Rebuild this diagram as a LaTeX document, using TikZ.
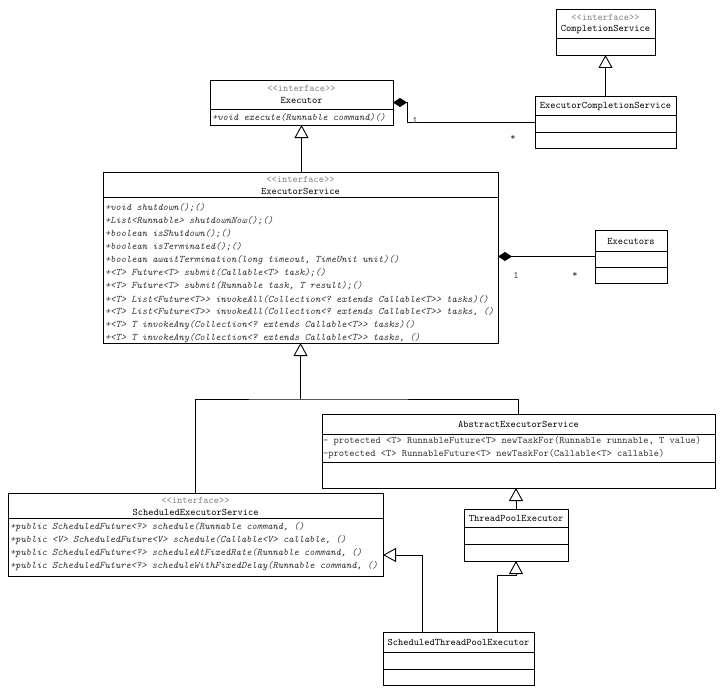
\documentclass[tikz,border=0pt]{standalone}
\usepackage{fontspec}
\setmonofont{Latin Modern Mono}
\usetikzlibrary{arrows.meta}
\tikzset{
  cls/.style={draw, line width=0.9pt, anchor=north west, inner sep=0pt, outer sep=0pt},
  txt/.style={inner sep=0pt, font=\ttfamily\fontsize{10}{11}\selectfont},
  stereo/.style={txt, text=black!50},
  cname/.style={txt, text=black},
  meth/.style={txt, anchor=west, font=\ttfamily\itshape\fontsize{10}{11}\selectfont, text=black!80},
  op/.style={txt, anchor=west, text=black!80},
  sep/.style={line width=0.9pt},
  inh/.style={-{Triangle[open, length=13pt, width=14pt, fill=white]}, line width=0.9pt},
  comp/.style={-{Diamond[length=14pt, width=9pt]}, line width=0.9pt},
  mult/.style={txt, text=black!80}
}
\begin{document}
\begin{tikzpicture}[x=1pt,y=-1pt]
\useasboundingbox (0,0) rectangle (720,693);

% CompletionService
\node[cls, minimum width=99pt, minimum height=46pt] (cs) at (556,9) {};
\draw[sep] (556,38) -- (655,38);
\node[stereo] (csst) at (605.5,17) {<<interface>>};
\node[cname] (csn) at (605.5,30) {CompletionService};

% ExecutorCompletionService
\node[cls, minimum width=141pt, minimum height=52pt] (ecs) at (535,96) {};
\draw[sep] (535,115) -- (676,115);
\draw[sep] (535,132) -- (676,132);
\node[cname] (ecsn) at (605.5,106) {ExecutorCompletionService};

% Executor
\node[cls, minimum width=183pt, minimum height=45pt] (exec) at (210,80) {};
\draw[sep] (210,109) -- (393,109);
\node[stereo] (execst) at (301.5,88) {<<interface>>};
\node[cname] (execn) at (301.5,100) {Executor};
\node[meth] (execm) at (212,117) {+void execute(Runnable command)()};

% ExecutorService
\node[cls, minimum width=395pt, minimum height=171pt] (es) at (103,172) {};
\draw[sep] (103,197) -- (498,197);
\node[stereo] (esst) at (300.5,179) {<<interface>>};
\node[cname] (esn) at (300.5,191) {ExecutorService};
\node[meth] (esm1) at (105,208) {+void shutdown();()};
\node[meth] (esm2) at (105,221) {+List<Runnable> shutdownNow();()};
\node[meth] (esm3) at (105,234) {+boolean isShutdown();()};
\node[meth] (esm4) at (105,247) {+boolean isTerminated();()};
\node[meth] (esm5) at (105,260) {+boolean awaitTermination(long timeout, TimeUnit unit)()};
\node[meth] (esm6) at (105,273) {+<T> Future<T> submit(Callable<T> task);()};
\node[meth] (esm7) at (105,286) {+<T> Future<T> submit(Runnable task, T result);()};
\node[meth] (esm8) at (105,299) {+<T> List<Future<T>> invokeAll(Collection<? extends Callable<T>> tasks)()};
\node[meth] (esm9) at (105,312) {+<T> List<Future<T>> invokeAll(Collection<? extends Callable<T>> tasks, ()};
\node[meth] (esm10) at (105,325) {+<T> T invokeAny(Collection<? extends Callable<T>> tasks)()};
\node[meth] (esm11) at (105,338) {+<T> T invokeAny(Collection<? extends Callable<T>> tasks, ()};

% Executors
\node[cls, minimum width=72pt, minimum height=53pt] (exs) at (595,230) {};
\draw[sep] (595,251) -- (667,251);
\draw[sep] (595,267) -- (667,267);
\node[cname] (exsn) at (631,241) {Executors};

% AbstractExecutorService
\node[cls, minimum width=393pt, minimum height=74pt] (aes) at (322,414) {};
\draw[sep] (322,434) -- (715,434);
\draw[sep] (322,462) -- (715,462);
\node[cname] (aesn) at (518.5,424) {AbstractExecutorService};
\node[op] (aesm1) at (323,441) {- protected <T> RunnableFuture<T> newTaskFor(Runnable runnable, T value)};
\node[op] (aesm2) at (323,454) {-protected <T> RunnableFuture<T> newTaskFor(Callable<T> callable)};

% ThreadPoolExecutor
\node[cls, minimum width=104pt, minimum height=52pt] (tpe) at (464,509) {};
\draw[sep] (464,527) -- (568,527);
\draw[sep] (464,544) -- (568,544);
\node[cname] (tpen) at (516,518) {ThreadPoolExecutor};

% ScheduledExecutorService
\node[cls, minimum width=375pt, minimum height=83pt] (ses) at (8,493) {};
\draw[sep] (8,518) -- (383,518);
\node[stereo] (sesst) at (195.5,500) {<<interface>>};
\node[cname] (sesn) at (195.5,512) {ScheduledExecutorService};
\node[meth] (sesm1) at (10,527) {+public ScheduledFuture<?> schedule(Runnable command, ()};
\node[meth] (sesm2) at (10,540) {+public <V> ScheduledFuture<V> schedule(Callable<V> callable, ()};
\node[meth] (sesm3) at (10,553) {+public ScheduledFuture<?> scheduleAtFixedRate(Runnable command, ()};
\node[meth] (sesm4) at (10,566) {+public ScheduledFuture<?> scheduleWithFixedDelay(Runnable command, ()};

% ScheduledThreadPoolExecutor
\node[cls, minimum width=151pt, minimum height=53pt] (stpe) at (383,632) {};
\draw[sep] (383,652) -- (534,652);
\draw[sep] (383,669) -- (534,669);
\node[cname] (stpen) at (458.5,642) {ScheduledThreadPoolExecutor};

% Connectors
\draw[inh] (ecs.north) -- (cs.south);
\draw[inh] (exec.south |- es.north) -- (exec.south);
\draw[comp] (ecs.west) -| ([xshift=14pt]exec.east) -- (exec.east);
\node[mult] (m1) at (415,120) {1};
\node[mult] (m2) at (513,138) {*};
\draw[comp] (exs.west) -- (exs.west -| es.east);
\node[mult] (m3) at (516,275) {1};
\node[mult] (m4) at (575,275) {*};

\coordinate (j1) at ([yshift=-56pt]es.south);
\draw[sep] (ses.north) |- (j1) -| (aes.north);
\draw[inh] (j1) -- (es.south);
\draw[inh] (tpe.north) -- (tpe.north |- aes.south);
\draw[inh] ([xshift=38.5pt]stpe.north) |- ([yshift=-14pt]tpe.south) -- (tpe.south);
\draw[inh] ([xshift=-36.5pt]stpe.north) |- ([yshift=-20.5pt]ses.east);
\end{tikzpicture}
\end{document}
